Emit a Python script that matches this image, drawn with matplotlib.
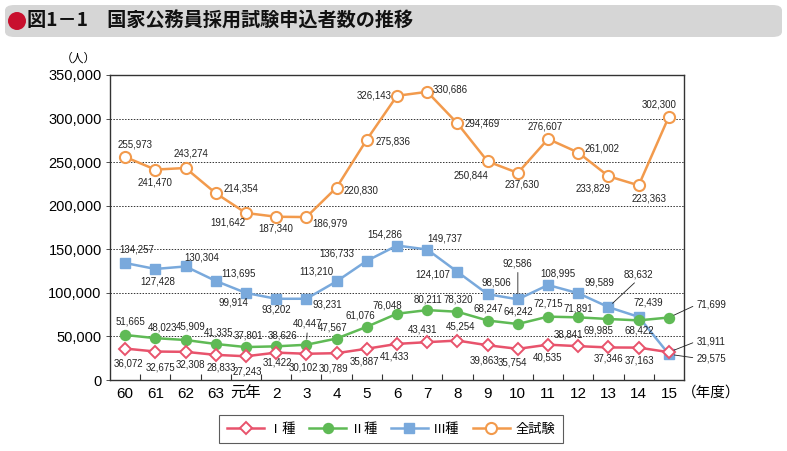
import numpy as np
import matplotlib.pyplot as plt
from matplotlib.patches import FancyBboxPatch, Ellipse

# 年度
nendo = ["60", "61", "62", "63", "元年", "2", "3", "4", "5", "6",
         "7", "8", "9", "10", "11", "12", "13", "14", "15"]

# 申込者数（人）
shu1 = [36072, 32675, 32308, 28833, 27243, 31422, 30102, 30789, 35887, 41433,
        43431, 45254, 39863, 35754, 40535, 38841, 37346, 37163, 31911]
shu2 = [51665, 48023, 45909, 41335, 37801, 38626, 40447, 47567, 61076, 76048,
        80211, 78320, 68247, 64242, 72715, 71891, 69985, 68422, 71699]
shu3 = [134257, 127428, 130304, 113695, 99914, 93202, 93231, 113210, 136733, 154286,
        149737, 124107, 98506, 92586, 108995, 99589, 83632, 72439, 29575]
zen = [255973, 241470, 243274, 214354, 191642, 187340, 186979, 220830, 275836, 326143,
       330686, 294469, 250844, 237630, 276607, 261002, 233829, 223363, 302300]

# ラベル位置（ピクセル, 下向き正）
off1 = [(3, 15), (5, 16), (5, 13), (6, 13), (1, 15), (1, 10), (-3, 14), (-3, 15), (-2, 13), (-2, 13),
        (-5, -13), (3, -14), (-3, 15), (-5, 14), (0, 13), (-10, -12), (0, 11), (1, 13), (28, -11)]
off2 = [(5, -13), (7, -11), (5, -13), (3, -11), (2, -12), (6, -11), (1, -21), (-4, -11), (-6, -11), (-10, -8),
        (1, -11), (1, -12), (1, -12), (0, -13), (0, -13), (0, -9), (-10, 11), (1, 10), (28, -13)]
off3 = [(12, -14), (2, 13), (16, -9), (23, -7), (-13, 10), (0, 11), (21, 6), (-20, -10), (-30, -7), (-12, -11),
        (18, -11), (-25, 3), (9, -12), (0, -36), (10, -12), (21, -11), (30, -33), (10, -14), (28, 4)]
offz = [(10, -12), (0, 13), (5, -15), (25, -5), (-18, 10), (0, 12), (24, 6), (24, 3), (26, 2), (-23, 0),
        (23, -2), (25, 0), (-17, 14), (4, 12), (-3, -12), (24, -4), (-15, 12), (10, 13), (-10, -12)]

# 引き出し線のある点
lead1 = {18}
lead2 = {6, 18}
lead3 = {13, 16, 18}
leadz = set()

c1 = "#e8536c"
c2 = "#5fba55"
c3 = "#79a9dc"
cz = "#f29a4c"

num_font = ["Liberation Sans", "Noto Sans CJK JP"]
jp_font = ["Noto Sans CJK JP", "DejaVu Sans"]

fig = plt.figure(figsize=(7.87, 4.51), dpi=100)

# タイトル
fig.patches.append(FancyBboxPatch((5 / 787, 1 - 37 / 451), 777 / 787, 32 / 451,
                                  boxstyle="round,pad=0,rounding_size=0.012",
                                  transform=fig.transFigure, fc="#d6d6d6", ec="none"))
fig.patches.append(Ellipse((17 / 787, 1 - 21 / 451), 18 / 787, 18 / 451, transform=fig.transFigure,
                           fc="#c8102e", ec="none"))
fig.text(27 / 787, 1 - 21 / 451, "図1－1　国家公務員採用試験申込者数の推移",
         family=jp_font, fontsize=13.8, weight="bold", va="center", ha="left", color="#111")

ax = fig.add_axes([110 / 787, 1 - 380 / 451, 574 / 787, 305 / 451])
x = np.arange(len(nendo))

ax.plot(x, zen, color=cz, lw=1.8, marker="o", ms=8, mfc="white", mec=cz, mew=1.5, zorder=3, label="全試験")
ax.plot(x, shu3, color=c3, lw=1.8, marker="s", ms=7.5, mfc=c3, mec=c3, zorder=3, label="Ⅲ種")
ax.plot(x, shu2, color=c2, lw=1.8, marker="o", ms=7.2, mfc=c2, mec=c2, zorder=3, label="Ⅱ種")
ax.plot(x, shu1, color=c1, lw=1.8, marker="D", ms=6.3, mfc="white", mec=c1, mew=1.4, zorder=3, label="Ⅰ種")

def labels(vals, offs, leads):
    for i, (v, (dx, dy)) in enumerate(zip(vals, offs)):
        txt = f"{v:,}"
        if i in leads:
            right = i == len(vals) - 1
            ax.annotate(txt, xy=(i, v), xytext=(dx, -dy), textcoords="offset pixels",
                        ha="left" if right else "center", va="center",
                        family=num_font, fontsize=7, color="#222", annotation_clip=False,
                        arrowprops=dict(arrowstyle="-", color="#222", lw=0.6,
                                        shrinkA=1, shrinkB=4,
                                        relpos=(0, 0.5) if right else (0.5, 0)))
        else:
            ax.annotate(txt, xy=(i, v), xytext=(dx, -dy), textcoords="offset pixels",
                        ha="center", va="center", family=num_font, fontsize=7,
                        color="#222", annotation_clip=False, zorder=4)

labels(zen, offz, leadz)
labels(shu3, off3, lead3)
labels(shu2, off2, lead2)
labels(shu1, off1, lead1)

ax.set_xlim(-0.5, len(nendo) - 0.5)
ax.set_ylim(0, 350000)
ax.set_yticks(np.arange(0, 350001, 50000))
ax.set_yticklabels([f"{v:,}" for v in range(0, 350001, 50000)], family=num_font, fontsize=10.5)
ax.set_xticks(x)
ax.set_xticklabels(nendo, family=num_font, fontsize=11)
ax.set_xticks(x[:-1] + 0.5, minor=True)
ax.tick_params(axis="x", which="major", length=0, pad=5)
ax.tick_params(axis="x", which="minor", direction="in", length=4, width=0.8, color="#333")
ax.tick_params(axis="y", length=3, width=0.6, color="#333", pad=3)
ax.grid(axis="y", linestyle=(0, (1.5, 1.5)), color="#333", lw=0.7, zorder=1)
ax.set_axisbelow(True)
for s in ax.spines.values():
    s.set_color("#333")
    s.set_linewidth(1.0)

fig.text(78 / 787, 1 - 58 / 451, "（人）", family=jp_font, fontsize=8.5, ha="center", va="center")
fig.text(682 / 787, 1 - 393 / 451, "（年度）", family=jp_font, fontsize=10.5, ha="left", va="center")

h, l = ax.get_legend_handles_labels()
leg = fig.legend(h[::-1], l[::-1], loc="center", bbox_to_anchor=(391 / 787, 1 - 429 / 451),
                 ncol=4, frameon=True, fancybox=False, edgecolor="#333", handlelength=2.8,
                 columnspacing=1.0, handletextpad=0.4, borderpad=0.6,
                 prop={"family": jp_font, "size": 9.5})
leg.get_frame().set_linewidth(0.8)

fig.savefig("out.png", dpi=100)
